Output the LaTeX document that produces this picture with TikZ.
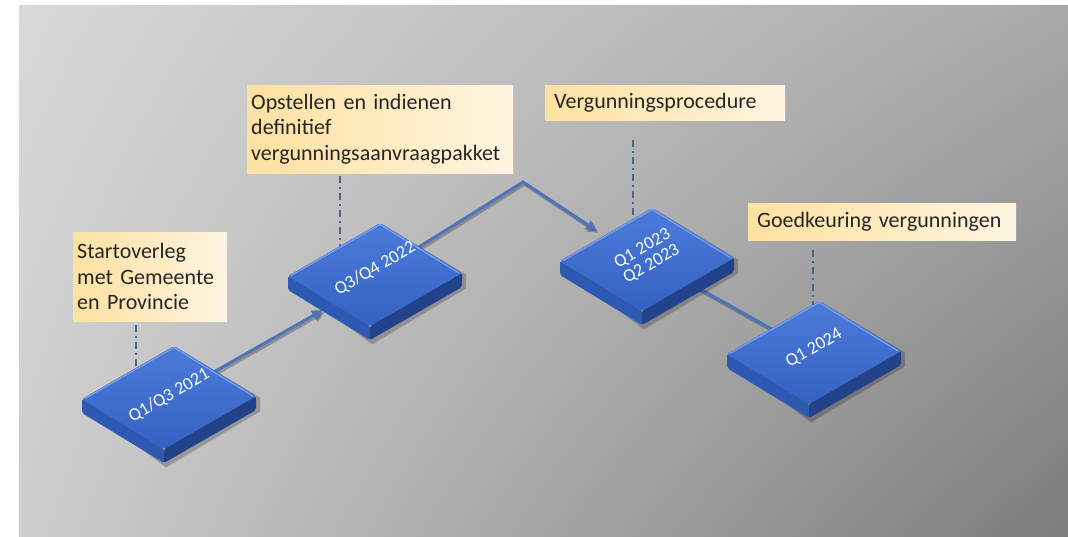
\documentclass[tikz,border=0pt]{standalone}
\usepackage{fontspec}
\setmainfont{Carlito}
\usetikzlibrary{arrows.meta,calc,positioning,shadings}

\definecolor{bgUL}{HTML}{D8D8D8}
\definecolor{bgUR}{HTML}{A9A9A9}
\definecolor{bgLL}{HTML}{CDCDCD}
\definecolor{bgLR}{HTML}{7C7C7C}
\definecolor{boxL}{HTML}{FDE1A0}
\definecolor{boxR}{HTML}{FFF5E1}
\definecolor{textgray}{HTML}{262626}
\definecolor{tileTopA}{HTML}{4A7BDB}
\definecolor{tileTopB}{HTML}{3562C2}
\definecolor{tileLeft}{HTML}{2D59B2}
\definecolor{tileRight}{HTML}{22428A}
\definecolor{tileRim}{HTML}{7CA1EA}
\definecolor{linkblue}{HTML}{4D74BB}
\definecolor{pinblue}{HTML}{4A6490}

\begin{document}
\begin{tikzpicture}[x=1pt,y=1pt,
  labelbox/.style={anchor=north west,align=left,inner xsep=9pt,inner ysep=0pt,
    left color=boxL,right color=boxR,text=textgray,
    font=\fontsize{22}{25.5}\selectfont},
  tiletext/.style={text=white,rotate=30,align=center,inner sep=0pt,
    font=\fontsize{18}{18}\selectfont},
  pin/.style={draw=pinblue,line width=1.4pt,
    dash pattern=on 7pt off 4pt on 2pt off 4pt},
  link/.style={draw=linkblue,line width=3pt,
    preaction={draw=black,opacity=.25,line width=3.5pt,
      transform canvas={shift={(1.5pt,-2pt)}}}},
  tip/.style={-{Triangle[length=11pt,width=10pt]}}]

  % background
  \useasboundingbox (0,0) rectangle (1068,537);
  \shade[upper left=bgUL,upper right=bgUR,lower left=bgLL,lower right=bgLR]
    (19,0) rectangle (1068,531);

  % tile centres
  \coordinate (t1) at (169,139.5);
  \coordinate (t2) at (375,262.5);
  \coordinate (t3) at (647,277.5);
  \coordinate (t4) at (814,184.5);
  \coordinate (a1) at (323,227);   % arrow tips
  \coordinate (peak) at (523,355);
  \coordinate (a2) at (597,306);
  \coordinate (p1) at (136,160);   % pin ends
  \coordinate (p2) at (340,285);
  \coordinate (p3) at (633,310);
  \coordinate (p4) at (813,225);

  % labels
  \node[labelbox,inner xsep=4pt,text width=146pt,minimum height=89pt] (lab1) at (73,305)
    {Startoverleg\\met Gemeente\\en Provincie};
  \node[labelbox,inner xsep=4pt,text width=258pt,minimum height=88pt] (lab2) at (247,452)
    {Opstellen en indienen\\definitief\\vergunningsaanvraagpakket};
  \node[labelbox,text width=222pt,minimum height=35pt] (lab3) at (545,452)
    {Vergunningsprocedure};
  \node[labelbox,text width=250pt,minimum height=37pt] (lab4) at (748,334)
    {Goedkeuring vergunningen};

  % pins
  \draw[pin,shorten <=4pt] (lab1.south -| p1) -- (p1);
  \draw[pin,shorten <=3pt] (lab2.south -| p2) -- (p2);
  \draw[pin,shorten <=20pt] (lab3.south -| p3) -- (p3);
  \draw[pin,shorten <=10pt] (lab4.south -| p4) -- (p4);

  % connectors
  \draw[link,tip] (t1) -- (a1);
  \draw[link,tip] (t2) -- (peak) -- (a2);
  \draw[link] (t3) -- (t4);

  % tiles
  \foreach \n in {1,...,4}{
    \begin{scope}[shift={(t\n)}]
      \fill[black,opacity=.22] (-85,-8) -- (-3,-70) -- (91,-14) -- (91,0) -- (8,50) -- cycle;
      \fill[tileLeft,rounded corners=2pt] (-87,-1.5) -- (-5,-51.5) -- (-5,-65.5) -- (-87,-15.5) -- cycle;
      \fill[tileRight,rounded corners=2pt] (-5,-51.5) -- (87,1.5) -- (87,-12.5) -- (-5,-65.5) -- cycle;
      \shade[top color=tileTopA,bottom color=tileTopB,rounded corners=2pt]
        (-87,-1.5) -- (5,51.5) -- (87,1.5) -- (-5,-51.5) -- cycle;
      \draw[tileRim,line width=1.2pt,line cap=round] (-84,-1) -- (5,50) -- (84,1.5);
    \end{scope}
  }

  % tile texts
  \node[tiletext] (q1) at ($(t1)+(0,2)$) {Q1/Q3 2021};
  \node[tiletext] (q2) at ($(t2)+(0,6)$) {Q3/Q4 2022};
  \node[tiletext] (q3) at ($(t3)+(0,3)$) {Q1 2023\\Q2 2023};
  \node[tiletext] (q4) at ($(t4)+(0,4)$) {Q1 2024};

\end{tikzpicture}
\end{document}
